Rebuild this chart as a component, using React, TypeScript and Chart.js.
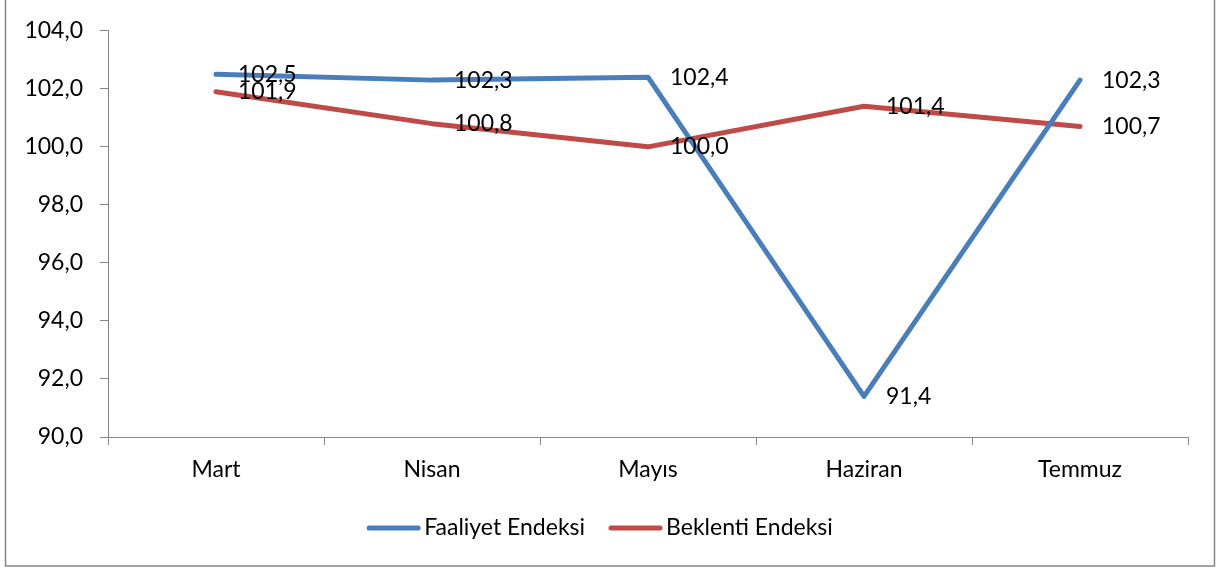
import React, { useEffect, useRef } from "react";
import { Chart, registerables } from "chart.js";

Chart.register(...registerables);

const categories = ["Mart", "Nisan", "Mayıs", "Haziran", "Temmuz"];
const faaliyetValues = [102.5, 102.3, 102.4, 91.4, 102.3];
const beklentiValues = [101.9, 100.8, 100.0, 101.4, 100.7];
const seriesNames = ["Faaliyet Endeksi", "Beklenti Endeksi"];
const seriesColors = ["#4A7EBB", "#BE4B48"];
const yMin = 90;
const yMax = 104;
const yStep = 2;

const FONT_FAMILY = "Lato, 'Noto Sans', sans-serif";
const FONT_SIZE = 23;
const AXIS_COLOR = "#868686";

const fmt = (v: number) => v.toFixed(1).replace(".", ",");

const framePlugin = {
  id: "frame",
  beforeDraw(chart: any) {
    const ctx = chart.ctx;
    ctx.save();
    ctx.fillStyle = "#ffffff";
    ctx.fillRect(0, 0, chart.width, chart.height);
    ctx.strokeStyle = AXIS_COLOR;
    ctx.lineWidth = 1.5;
    ctx.strokeRect(5.5, -3, chart.width - 7, chart.height - 1.5 + 3 - 0.5);
    ctx.restore();
  },
};

const valueLabelPlugin = {
  id: "valueLabels",
  afterDatasetsDraw(chart: any) {
    const ctx = chart.ctx;
    ctx.save();
    ctx.font = `${FONT_SIZE}px ${FONT_FAMILY}`;
    ctx.fillStyle = "#000000";
    ctx.textAlign = "left";
    ctx.textBaseline = "middle";
    chart.data.datasets.forEach((ds: any, i: number) => {
      const meta = chart.getDatasetMeta(i);
      meta.data.forEach((pt: any, j: number) => {
        ctx.fillText(fmt(ds.data[j]), pt.x + 22, pt.y);
      });
    });
    ctx.restore();
  },
};

const legendPlugin = {
  id: "customLegend",
  afterDraw(chart: any) {
    const ctx = chart.ctx;
    ctx.save();
    ctx.font = `${FONT_SIZE}px ${FONT_FAMILY}`;
    ctx.textBaseline = "middle";
    ctx.textAlign = "left";
    const lineLen = 53;
    const gap = 4;
    const spacing = 24;
    const items = chart.data.datasets.map((ds: any) => ({
      label: ds.label,
      color: ds.borderColor,
      w: ctx.measureText(ds.label).width,
    }));
    let total = 0;
    items.forEach((it: any, i: number) => {
      total += lineLen + gap + it.w + (i < items.length - 1 ? spacing : 0);
    });
    let x = 600 - total / 2;
    const y = 528;
    items.forEach((it: any) => {
      ctx.strokeStyle = it.color;
      ctx.lineWidth = 5;
      ctx.lineCap = "round";
      ctx.beginPath();
      ctx.moveTo(x + 2, y);
      ctx.lineTo(x + lineLen - 2, y);
      ctx.stroke();
      ctx.fillStyle = "#000000";
      ctx.fillText(it.label, x + lineLen + gap, y);
      x += lineLen + gap + it.w + spacing;
    });
    ctx.restore();
  },
};

export default function App() {
  const canvasRef = useRef<HTMLCanvasElement | null>(null);

  useEffect(() => {
    if (!canvasRef.current) return;
    const chart = new Chart(canvasRef.current, {
      type: "line",
      data: {
        labels: categories,
        datasets: [
          {
            label: seriesNames[0],
            data: faaliyetValues,
            borderColor: seriesColors[0],
            backgroundColor: seriesColors[0],
            borderWidth: 5,
            pointRadius: 0,
            pointHoverRadius: 0,
            tension: 0,
            borderCapStyle: "round",
            borderJoinStyle: "round",
          },
          {
            label: seriesNames[1],
            data: beklentiValues,
            borderColor: seriesColors[1],
            backgroundColor: seriesColors[1],
            borderWidth: 5,
            pointRadius: 0,
            pointHoverRadius: 0,
            tension: 0,
            borderCapStyle: "round",
            borderJoinStyle: "round",
          },
        ],
      },
      options: {
        responsive: false,
        animation: false,
        events: [],
        layout: { padding: { top: 28, right: 28, bottom: 0, left: 0 } },
        plugins: {
          legend: { display: false },
          tooltip: { enabled: false },
          title: { display: false },
        },
        scales: {
          x: {
            type: "category",
            offset: true,
            grid: {
              offset: true,
              drawOnChartArea: false,
              drawTicks: true,
              tickLength: 8,
              color: AXIS_COLOR,
            },
            border: { display: true, color: AXIS_COLOR, width: 1 },
            ticks: {
              color: "#000000",
              font: { family: FONT_FAMILY, size: FONT_SIZE },
              padding: 11,
              maxRotation: 0,
            },
            afterFit: (s: any) => {
              s.height = 131;
            },
          },
          y: {
            type: "linear",
            min: yMin,
            max: yMax,
            grid: {
              drawOnChartArea: false,
              drawTicks: true,
              tickLength: 8,
              color: AXIS_COLOR,
            },
            border: { display: true, color: AXIS_COLOR, width: 1 },
            ticks: {
              stepSize: yStep,
              color: "#000000",
              font: { family: FONT_FAMILY, size: FONT_SIZE },
              padding: 17,
              callback: (v: any) => fmt(Number(v)),
            },
            afterFit: (s: any) => {
              s.width = 108;
            },
          },
        },
      },
      plugins: [framePlugin, valueLabelPlugin, legendPlugin],
    } as any);
    return () => chart.destroy();
  }, []);

  return (
    <div style={{ position: "absolute", left: 0, top: 0, width: 1216, height: 568 }}>
      <canvas ref={canvasRef} width={1216} height={568} style={{ display: "block" }} />
    </div>
  );
}
